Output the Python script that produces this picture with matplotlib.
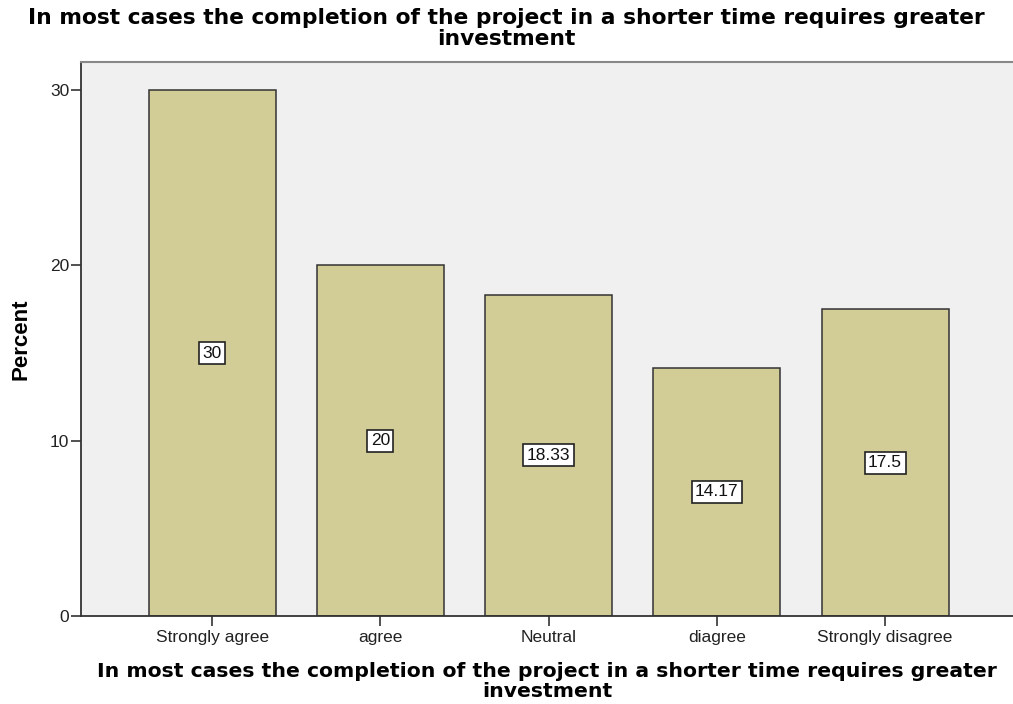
import matplotlib.pyplot as plt
import numpy as np

# data
categories = ["Strongly agree", "agree", "Neutral", "diagree", "Strongly disagree"]
percent = [30, 20, 18.33, 14.17, 17.5]
value_labels = ["30", "20", "18.33", "14.17", "17.5"]
yticks = [0, 10, 20, 30]
question = "In most cases the completion of the project in a shorter time requires greater\ninvestment"

fig = plt.figure(figsize=(10.13, 7.04), dpi=100)
ax = fig.add_axes([81 / 1013, 1 - 616 / 704, (1013 - 81) / 1013, (616 - 62) / 704])
ax.set_facecolor("#f0f0f0")

x = np.arange(len(categories))
ax.bar(x, percent, width=0.755, color="#d2cd96", edgecolor="#333333", linewidth=1.1, zorder=2)

for xi, v, lab in zip(x, percent, value_labels):
    ax.text(xi, v / 2, lab, ha="center", va="center", fontsize=12.5, family="Liberation Sans",
            color="#111111", zorder=3,
            bbox=dict(boxstyle="square,pad=0.2", facecolor="white", edgecolor="#222222", linewidth=1.2))

ax.set_xlim(-0.779, 4.76)
ax.set_ylim(0, 31.6)
ax.set_xticks(x)
ax.set_xticklabels(categories, fontsize=12.5, family="Liberation Sans", color="#222222")
ax.set_yticks(yticks)
ax.set_yticklabels([str(t) for t in yticks], fontsize=12.5, family="Liberation Sans", color="#222222")
ax.tick_params(axis="x", length=7, width=1.2, color="#333333", pad=3)
ax.tick_params(axis="y", length=7.5, width=1.2, color="#333333", pad=1)

for side in ["left", "bottom"]:
    ax.spines[side].set_color("#333333")
    ax.spines[side].set_linewidth(1.3)
ax.spines["top"].set_color("#888888")
ax.spines["top"].set_linewidth(1.5)
ax.spines["right"].set_visible(False)

ax.set_ylabel("Percent", fontsize=16, fontweight="bold", family="Liberation Sans", labelpad=13)
ax.set_xlabel(question, fontsize=14.7, fontweight="bold", family="DejaVu Sans", labelpad=12,
              linespacing=1.1)
fig.text(0.5, 0.988, question, ha="center", va="top", fontsize=15.7, fontweight="bold",
         family="DejaVu Sans", linespacing=1.05)

fig.savefig("out.png", dpi=100)
